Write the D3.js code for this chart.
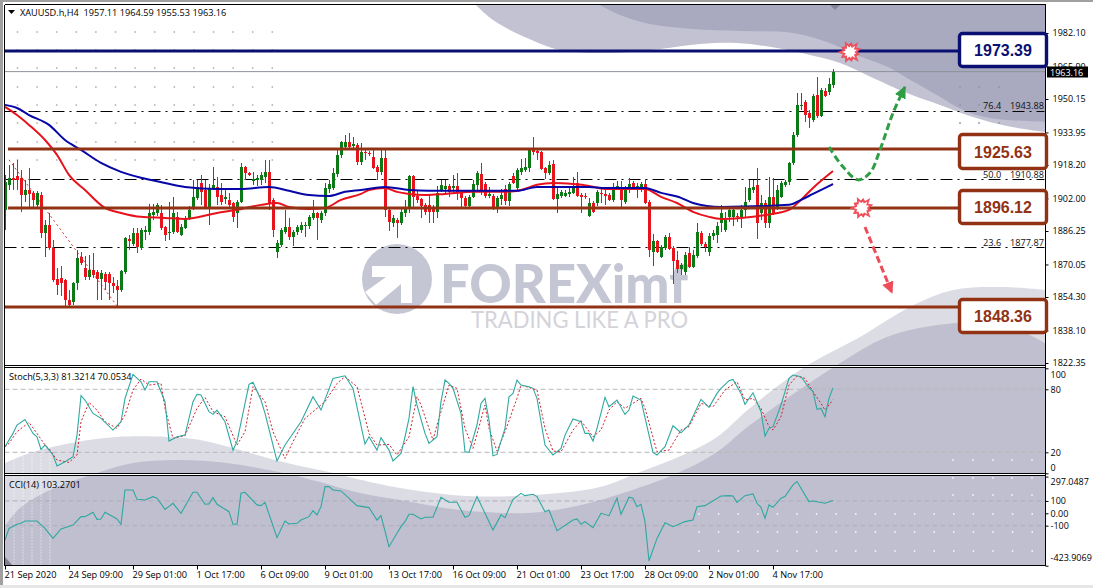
<!DOCTYPE html>
<html><head><meta charset="utf-8">
<style>html,body{margin:0;padding:0;background:#fff;overflow:hidden}svg{display:block}text{font-family:"Open Sans",sans-serif}</style>
<script src="https://cdn.jsdelivr.net/npm/d3@7/dist/d3.min.js"></script></head><body><svg id="c" width="1093" height="588"></svg>
<script>
// ---------- data ----------
const opens=[1896.5,1908.6,1912,1912.9,1912,1903.7,1906.1,1904.7,1898.9,1903.7,
1885.3,1889.2,1878.1,1863.1,1863.5,1862.6,1852.9,1851.9,1861.1,1873.7,
1868.4,1864,1867.4,1866.4,1863.1,1865.5,1865.5,1861.1,1859.7,1857.7,
1866.4,1882.4,1880,1885.3,1878.1,1885.8,1885.8,1894,1895,1895,
1888.2,1885.3,1885.8,1893.1,1884.4,1887.7,1892.6,1897.4,1902.3,1909.5,
1906.1,1897.9,1907.1,1907.6,1903.7,1901.8,1901.3,1899.8,1895,1900.3,
1917.3,1914.4,1910.5,1911,1911,1912.4,1914.9,1901.3,1876.1,1879.5,
1885.8,1888.2,1883.4,1885.8,1886.8,1888.7,1888.7,1892.6,1895,1891.6,
1895,1906.6,1907.1,1913.9,1923.1,1926.9,1929.4,1927.4,1927.9,1919.7,
1924.5,1924,1922.1,1917.3,1914.9,1921.6,1896.5,1890.2,1891.6,1890.2,
1895,1897.9,1912.9,1903.2,1901.8,1898.9,1898.9,1897.9,1895.5,1906.1,
1906.6,1908.1,1907.1,1908.1,1905.2,1902.3,1898.4,1902.8,1908.6,1913.9,
1909,1903.2,1903.2,1897.4,1901.8,1906.6,1900.8,1912.9,1907.1,1914.9,
1915.8,1916.8,1925.5,1925,1924.5,1916.8,1914.4,1918.7,1901.8,1903.2,
1903.2,1904.2,1904.7,1909.5,1903.7,1903.2,1893.6,1899.8,1899.8,1904.7,
1904.2,1903.7,1901.3,1907.6,1907.6,1900.3,1907.1,1909.5,1907.6,1907.1,
1909,1900.3,1876.1,1881.5,1873.7,1878.1,1883.4,1878.1,1872.3,1867.9,
1866.4,1875.6,1868.9,1874.2,1885.3,1880,1876.1,1883.9,1884.4,1890.2,
1886.8,1893.1,1893.1,1893.6,1893.1,1896.5,1901.3,1906.1,1908.6,1895,
1899.8,1890.2,1902.8,1897.9,1902.8,1908.6,1910,1919.2,1932.8,1946.8,
1948.7,1943.4,1940,1952.1,1942,1954.1,1953.6,1957.11];
const highs=[1913.4,1918.2,1919.2,1920.7,1915.8,1911,1916.8,1905.7,1905.7,1905.2,
1891.6,1895,1881.9,1868.4,1869.4,1863.1,1857.7,1861.6,1877.1,1876.1,
1874.2,1874.7,1875.6,1867.4,1867.4,1866.4,1866.4,1864,1862.6,1867.4,
1883.4,1884.4,1887.7,1887.7,1887.7,1888.7,1899.4,1899.4,1899.8,1898.9,
1888.7,1900.3,1902.8,1895.5,1889.7,1893.6,1898.4,1911,1911,1913.4,
1911,1909,1917.3,1912.4,1909.5,1906.1,1904.7,1900.3,1901.3,1919.2,
1917.8,1914.9,1914.9,1913.4,1914.9,1920.7,1920.7,1902.3,1881.9,1887.7,
1896.5,1892.6,1886.8,1889.2,1890.7,1890.7,1894,1901.3,1895.5,1896,
1909.5,1911,1916.8,1925.5,1929.9,1932.8,1933.7,1931.8,1928.9,1928.9,
1925.5,1925,1925.5,1918.2,1925.5,1925.5,1897.4,1894,1892.6,1897.9,
1901.3,1913.4,1913.4,1905.7,1902.3,1899.8,1903.7,1898.9,1908.1,1911,
1911,1909,1913.4,1914.4,1906.1,1903.2,1903.7,1911,1915.3,1919.2,
1910,1907.6,1904.2,1903.2,1906.6,1908.6,1910,1914.4,1916.8,1921.1,
1921.6,1925.5,1931.8,1926.5,1925,1917.3,1920.2,1920.7,1907.1,1906.1,
1906.1,1907.6,1912.4,1914.9,1904.7,1904.7,1902.3,1900.8,1906.1,1907.1,
1907.1,1904.7,1909.5,1910.5,1910.5,1908.1,1912,1910.5,1909.5,1910,
1911.5,1901.3,1884.8,1881.9,1879.5,1884.4,1885.3,1879,1876.6,1870.8,
1876.1,1878.6,1877.1,1890.2,1886.3,1881,1885.3,1886.8,1890.7,1898.9,
1895.5,1897.9,1897.4,1895,1898.9,1907.6,1911,1911,1916.8,1903.7,
1901.3,1912.4,1912,1908.6,1910.5,1911,1919.7,1934.2,1953.1,1953.1,
1949.7,1944.9,1952.6,1960.8,1955.5,1955.5,1960.3,1964.59];
const lows=[1886.8,1906.1,1906.1,1906.1,1895.5,1900.3,1897.9,1897.4,1897.9,1882.9,
1873.7,1877.1,1861.6,1855.3,1854.8,1849.5,1849.5,1850.5,1857.7,1869.8,
1862.6,1862.6,1863.5,1852.9,1852.9,1857.7,1852.9,1856.3,1850,1856.8,
1865.5,1877.1,1879,1875.6,1877.1,1881.9,1884.4,1891.6,1893.6,1886.8,
1881.5,1881.9,1884.8,1885.3,1883.9,1887.3,1891.6,1896.5,1901.3,1898.9,
1897.4,1889.2,1906.1,1898.9,1898.9,1899.4,1897.9,1890.7,1887.7,1899.8,
1911,1912.9,1908.6,1908.1,1908.6,1909.5,1896.5,1883.4,1873.2,1878.6,
1884.8,1881.9,1879,1884.4,1885.3,1883.4,1887.3,1891.6,1881.9,1890.2,
1893.6,1904.7,1906.1,1912.4,1921.6,1925.5,1925.5,1925.5,1918.2,1918.2,
1920.7,1922.6,1916.3,1911,1913.4,1893.1,1886.3,1888.2,1882.9,1889.2,
1893.1,1895,1897.9,1899.8,1892.6,1894,1890.2,1890.2,1892.6,1905.2,
1903.7,1902.8,1904.7,1901.3,1897.9,1897.4,1897.4,1902.3,1906.1,1903.7,
1902.3,1902.3,1896.5,1895,1898.9,1898.9,1898.4,1909,1906.1,1913.4,
1914.9,1914.9,1923.1,1920.7,1915.8,1911.5,1913.4,1901.3,1895,1902.3,
1902.8,1902.8,1904.2,1902.8,1895,1901.8,1893.1,1895,1898.4,1899.8,
1898.9,1900.8,1900.3,1906.1,1897.9,1899.4,1904.7,1906.1,1902.3,1905.2,
1899.4,1873.7,1869.4,1875.6,1873.2,1877.1,1877.1,1860.6,1866,1865,
1865,1868.4,1868.4,1873.2,1879,1876.1,1874.2,1881.9,1880.5,1885.8,
1885.8,1890.7,1888.7,1890.7,1887.7,1892.6,1900.3,1904.7,1882.4,1891.6,
1887.7,1887.7,1894,1896.5,1902.3,1907.6,1908.6,1918.2,1931.8,1944.9,
1939.1,1936.1,1939.1,1941,1941.5,1951.2,1952.1,1955.53];
const closes=[1910,1912,1911,1911,1903.7,1906.1,1904.2,1901.3,1904.7,1885.3,
1889.2,1878.1,1862.6,1860.2,1861.1,1852.9,1850.5,1861.1,1873.2,1870.8,
1864,1867.4,1865,1863.1,1866,1861.6,1861.1,1859.7,1857.7,1866.9,
1882.9,1881.5,1885.3,1878.6,1886.8,1886.8,1895,1895.5,1898.9,1887.7,
1884.4,1885.8,1895,1885.8,1888.2,1892.6,1896.5,1902.8,1907.6,1905.2,
1897.9,1907.1,1908.6,1902.8,1900.3,1902.8,1898.9,1893.1,1900.3,1917.3,
1914.4,1913.4,1911.5,1912,1913.4,1914.9,1899.8,1886.8,1880.5,1886.8,
1888.2,1883.4,1885.8,1888.2,1889.2,1889.2,1893.1,1895,1892.6,1895,
1907.1,1909,1914.4,1923.1,1929.4,1929.4,1926.9,1928.4,1919.7,1924.5,
1924,1923.6,1916.8,1914.9,1921.6,1896.5,1890.7,1892.6,1890.2,1895.5,
1897.9,1912.9,1902.8,1901.3,1898.4,1895.5,1895.5,1895.5,1904.7,1908.6,
1908.1,1905.2,1908.1,1905.2,1902.3,1898.4,1902.8,1909,1914.4,1906.1,
1903.2,1904.2,1897.4,1902.3,1903.7,1900.8,1909,1909.5,1915.8,1916.8,
1917.3,1925.5,1924.5,1924,1916.3,1914.4,1918.2,1901.8,1904.2,1905.2,
1904.7,1905.2,1907.1,1903.2,1902.8,1902.8,1899.8,1895.5,1905.2,1904.2,
1903.2,1901.3,1907.6,1908.1,1901.3,1907.1,1909,1907.1,1908.1,1909,
1899.8,1877.1,1881.5,1876.1,1878.6,1883.4,1877.6,1871.8,1867.9,1869.8,
1874.7,1868.9,1874.7,1885.8,1880,1878.6,1883.9,1885.3,1888.7,1895,
1891.6,1896.5,1896.5,1893.1,1896.5,1900.3,1907.1,1907.6,1890.2,1899.8,
1890.2,1902.8,1895,1906.1,1909.5,1910,1919.2,1932.8,1947.3,1947.3,
1942.4,1941,1951.6,1942,1954.5,1951.6,1957.4,1963.16];

const maFastBars=[0,3,6,10,13,16,20,25,29,34,40,45,53,58,64,68,71,76,80,84,89,91,95,98,101,105,110,117,125,129,133,137,142,146,150,160,164,168,172,176,179,184,190,196,199,202,207];
const maFast=[1946.3,1942.4,1937.6,1930.3,1923.1,1913.4,1906.1,1897.4,1895,1893.1,1892.6,1892.1,1895,1896.5,1898.9,1899.8,1897.9,1896.9,1897.4,1901.3,1904.2,1906.1,1907.1,1905.2,1904.2,1903.7,1904.2,1905.2,1905.2,1906.1,1908.6,1909.5,1909,1908.1,1906.6,1906.6,1902.8,1899.8,1895.5,1893.1,1892.1,1892.6,1894,1896.5,1901.3,1907.1,1915.3];
const maSlowBars=[0,3,6,11,15,19,24,29,34,40,45,53,59,66,71,76,81,85,89,95,101,106,114,128,133,139,146,150,160,164,169,172,179,196,199,202,207];
const maSlow=[1947.3,1945.8,1942.4,1937.6,1930.3,1925.5,1919.2,1914.9,1912,1909.5,1907.6,1906.6,1906.6,1907.6,1905.7,1903.7,1903.2,1905.2,1906.1,1907.6,1906.1,1905.7,1905.7,1905.7,1907.6,1907.6,1907.6,1907.1,1907.1,1904.7,1902.3,1899.8,1897.9,1898.9,1901.3,1904.2,1909];

const stochBars=[0,2,3,5,7,8,9,10,12,13,15,17,18,19,20,22,24,27,29,30,32,34,35,36,38,40,41,43,45,47,48,49,51,52,53,55,57,58,61,62,64,65,67,68,70,74,77,79,82,85,87,90,91,93,94,96,97,99,100,101,102,103,105,106,108,109,110,111,112,114,115,116,118,119,120,121,122,123,125,126,127,128,129,131,132,133,135,137,139,140,142,144,145,146,147,148,150,151,153,155,156,157,159,161,162,163,165,167,169,171,174,176,178,179,181,182,184,185,187,189,190,191,192,194,196,197,199,201,202,203,204,205,206,207];
const stochMain=[25.3,38,46,51.3,38,34.8,22.8,26.9,17.4,6.9,11,15.8,36.4,73.9,69.8,57,52.3,41.2,49.1,71.4,94.2,87.2,79.3,87.2,87.2,68.2,30.7,34.8,36.4,68.2,75.2,74.5,58.7,56.1,60.2,49.1,22.1,30.1,84.7,86.6,69.8,57,26.9,11.7,26.9,49.1,72.9,60.2,90.4,92.9,80.9,27.9,34.8,22.1,33.9,22.1,11.7,19,34.8,52.3,82.5,65,38,28.5,34.8,68.2,88.8,85.6,80.9,57,20.5,19.9,46,66.6,71.4,50.7,16.7,18,42.8,72.9,76.1,88.8,84,82.5,80.9,71.4,26.9,17.4,23.7,36.4,51.7,49.1,38,38,30.7,42.8,72.3,63.4,69.8,56.1,60.2,73.6,69.8,36.4,19.9,17.4,25.3,45.3,38.6,46,70.4,62.8,76.1,80.9,88.2,89.4,76.1,65.6,76.7,58.7,35.5,42.8,44.4,65,90.4,93.6,92,81.5,77.7,60.9,61.8,53.9,71.4,81.32];
const signalBars=[0,1,3,6,8,10,11,13,16,18,19,21,23,25,28,30,32,34,36,39,40,42,45,48,50,52,55,58,60,62,65,67,70,72,75,80,83,85,88,91,93,96,98,101,103,104,107,108,111,113,115,117,120,121,123,125,128,129,133,135,137,139,142,144,147,149,151,153,155,159,160,163,166,169,171,174,177,180,183,185,187,189,191,192,194,196,198,200,202,204,205,207];
const stochSignal=[25.3,28.5,39.6,48.5,38,26.9,23.7,12.6,10.4,17.4,49.1,67.5,60.2,49.1,42.8,55.5,79.3,89.8,84,85.6,61.8,33.2,35.8,61.8,72.3,58.7,53.9,26.9,39.6,82.5,68.2,39.6,14.2,30.1,52.3,68.2,85.6,92,82.5,38,26.9,27.5,17.4,34.8,72.9,65,31.7,46,84,80.9,42.8,23.7,65,42.8,21.2,39.6,71.4,84,79.3,42.8,21.2,20.5,41.2,50.1,34.8,41.2,60.2,68.2,61.8,71.4,61.8,20.5,22.1,41.2,44.4,66.6,63.4,79.3,87.2,69.8,71.4,61.8,44.4,41.2,53.9,84,92.6,90.4,77.7,66.6,60.2,70.05];

const cciBars=[0,1,3,4,5,8,10,12,14,17,19,20,22,23,24,25,28,29,30,32,33,35,37,38,40,42,44,47,48,50,51,52,53,56,57,58,59,60,63,64,65,68,70,71,73,74,76,77,78,79,80,81,82,84,88,91,93,94,96,98,99,100,101,102,104,105,107,109,111,113,115,116,118,122,124,125,127,129,130,132,133,135,136,138,142,143,144,145,147,149,151,153,154,156,157,158,159,160,161,163,165,167,170,172,173,175,179,181,182,183,185,187,188,189,190,191,192,194,195,197,198,201,202,205,207];
const cciValues=[-216,-122,-89,-81,-62,-62,-122,-203,-127,-95,-27,-27,8,-49,-46,8,-46,-89,189,189,113,108,135,122,32,81,0,170,170,73,76,127,73,13,-89,-89,162,170,68,62,89,-197,-62,-86,-81,-54,-27,22,-13,54,216,216,189,181,62,46,-54,-19,-270,-162,-108,-67,-8,-8,-46,-32,-32,130,89,89,-32,-19,135,-135,-13,-35,113,162,143,154,135,13,27,-140,-54,-46,-89,-67,-116,0,-19,122,-8,130,122,54,73,-67,-386,-203,-76,-108,-67,-54,54,62,140,143,140,89,143,157,81,49,-40,68,49,122,135,230,257,95,100,81,103.27];

const priceTicks=[1982.10,1965.90,1950.15,1933.95,1918.20,1902.00,1886.25,1870.05,1854.30,1838.10,1822.35];
const stochTicks=[100,80,20,0];
const cciTicks=[297.0487,100,0,-100,-423.9069];
const cciTickLabels=["297.0487","100","0.00","-100","-423.9069"];
const timeLabels=["21 Sep 2020","24 Sep 09:00","29 Sep 01:00","1 Oct 17:00","6 Oct 09:00","9 Oct 01:00","13 Oct 17:00","16 Oct 09:00","21 Oct 01:00","23 Oct 17:00","28 Oct 09:00","2 Nov 01:00","4 Nov 17:00"];
const barsPerLabel=16;

const fibLevels=[1943.88,1910.88,1877.87];
const fibNames=["76.4","50.0","23.6"];
const fibLabels=["1943.88","1910.88","1877.87"];
const fibBaseBars=[1,28];
const fibBasePrices=[1920.7,1850];

const levelPrices=[1973.39,1925.9,1897.4,1849.5];
const levelLabels=["1973.39","1925.63","1896.12","1848.36"];
const levelColors=["#0a0f72","#923214","#923214","#923214"];
const lastPrice=1963.16;

const upBars=[206,209.5,213.25,216.25,218.75,222,225];
const upPrices=[1926.9,1917.3,1911,1914.4,1925.5,1943.4,1956];
const downBars=[215,221.75];
const downPrices=[1888.2,1856.3];
const burstBars=[211.25,214.25];
const burstPrices=[1972.9,1897.4];

// background sweep outlines (decoration only)
const topMid=[[475,4],[493,20],[527,38],[560,50],[610,53],[660,49],[700,44],[737,43],[777,48],[810,55],[840,63],[873,78],[907,93],[940,105],[973,117],[1007,126],[1045,132]];
const topDark=[[598,4],[620,15],[650,24],[693,29],[743,31],[793,33],[827,42],[857,55],[890,68],[907,78],[937,95],[963,110],[990,118],[1045,122]];
const lowLight=[[5,463],[33,452],[77,442],[117,437],[167,437],[200,440],[240,450],[283,462],[333,473],[353,478],[400,488],[467,496],[533,495],[600,487],[640,472],[683,455],[717,437],[750,408],[803,368],[860,337],[910,307],[953,290],[1003,287],[1045,290]];
const lowDark=[[5,526],[20,508],[50,490],[97,473],[133,463],[177,460],[227,463],[283,473],[320,482],[360,493],[400,500],[460,510],[527,513],[567,508],[617,495],[680,472],[717,452],[750,425],[837,365],[887,337],[937,325],[970,323],[1013,328],[1045,343]];
const logoArrow=[[372,266],[412,266],[412,303],[401,303],[401,284],[376,305],[365,292],[386,277],[372,277]];

// ---------- scales ----------
const svg=d3.select("#c");
const L=4.5,R=1045.5;
const x=d3.scaleLinear().domain([0,barsPerLabel]).range([5,69]);
const y=d3.scaleLinear().domain([1822.35,1982.10]).range([363,33]);
const yS=d3.scaleLinear().domain([0,100]).range([473.3,368.3]);
const yC=d3.scaleLinear().domain([-423.9069,297.0487]).range([565.7,476.6]);

const C={dark:"#bfbfcf",light:"#dcdce5",tMid:"#c2c2d2",tDark:"#a9a9c0"};
const curve=d3.line().curve(d3.curveCatmullRom.alpha(0.5));
function area(pts,closeTo){const d=curve(pts);return d+closeTo+"Z";}

// ---------- sweeps ----------
svg.append("defs").append("clipPath").attr("id","plot").append("rect").attr("x",L).attr("y",4.5).attr("width",R-L).attr("height",561);
const bg=svg.append("g").attr("clip-path","url(#plot)");
bg.append("path").attr("d",area(topMid,"L1045,4")).attr("fill",C.tMid);
bg.append("path").attr("d",area(topDark,"L1045,4")).attr("fill",C.tDark);
bg.append("path").attr("d",area(lowLight,"L1045,566L5,566")).attr("fill",C.light);
bg.append("path").attr("d",area(lowDark,"L1045,566L5,566")).attr("fill",C.dark);
bg.append("path").attr("d","M5,557L13,566L5,566Z").attr("fill","#7f7f8f");
[14,23,32,41,50].forEach(v=>bg.append("line").attr("x1",v).attr("x2",v).attr("y1",447).attr("y2",565).attr("stroke","#fff").attr("stroke-opacity",.45).attr("stroke-dasharray","2 1"));

// dot grids
function dots(xs,ys,col){const g=bg.append("g").attr("fill",col);
  ys.forEach(b=>xs.forEach(a=>g.append("circle").attr("cx",a).attr("cy",b).attr("r",.9)));}
dots(d3.range(14).map(i=>17.5+i*19.6),[32,50,68,87,105,123,142,160],"#b9b9b9");
dots([960,979,999],[87,105,123],"#9494a8");
dots([953,973,993,1012,1032],[460,478,495],"#f2f2f6");
dots(d3.range(18).map(i=>699+i*19.6),[514,532,551],"#f2f2f6");

// ---------- watermark ----------
const wm=bg.append("g");
wm.append("circle").attr("cx",397).attr("cy",279).attr("r",35).attr("fill","#c5c6d4");
wm.append("polygon").attr("points",logoArrow.map(p=>p.join(",")).join(" ")).attr("fill","#fff");
wm.append("text").attr("x",440).attr("y",303).attr("textLength",248).attr("lengthAdjust","spacingAndGlyphs")
  .attr("font-size",54).attr("font-weight",900).attr("fill","#c5c6d4").style("font-family","Lato").text("FOREXimf");
wm.append("text").attr("x",471).attr("y",328).attr("textLength",217).attr("lengthAdjust","spacingAndGlyphs")
  .attr("font-size",23).attr("fill","#d3d3d9").style("font-family","Lato").text("TRADING LIKE A PRO");

// ---------- reference lines ----------
const chart=svg.append("g").attr("clip-path","url(#plot)");
[80,20].forEach(v=>chart.append("line").attr("x1",L).attr("x2",R).attr("y1",yS(v)).attr("y2",yS(v)).attr("stroke","#b8b8b8").attr("stroke-dasharray","5 3"));
[100,-100].forEach(v=>chart.append("line").attr("x1",L).attr("x2",R).attr("y1",yC(v)).attr("y2",yC(v)).attr("stroke","#aeaebc").attr("stroke-dasharray","5 3"));
chart.append("line").attr("x1",L).attr("x2",R).attr("y1",y(lastPrice)-.5).attr("y2",y(lastPrice)-.5).attr("stroke","#8c9298");
fibLevels.forEach((v,i)=>{
  chart.append("line").attr("x1",L).attr("x2",R-1).attr("y1",Math.round(y(v))-.5).attr("y2",Math.round(y(v))-.5).attr("stroke","#000").attr("stroke-dasharray","12 5 2 5");
  chart.append("text").attr("x",983).attr("y",y(v)-2.5).attr("font-size",9.2).attr("fill","#111").text(fibNames[i]);
  chart.append("text").attr("x",1044).attr("y",y(v)-2.5).attr("text-anchor","end").attr("font-size",9.2).attr("fill","#111").text(fibLabels[i]);
});
const pl=d3.line().x(d=>x(d[0])).y(d=>y(d[1]));
chart.append("path").attr("d",pl(d3.zip(fibBaseBars,fibBasePrices))).attr("fill","none").attr("stroke","#d83030").attr("stroke-width",1).attr("stroke-dasharray","2 3");

// ---------- candles ----------
const bars=d3.range(opens.length);
const cg=chart.append("g").attr("shape-rendering","crispEdges");
const col=i=>closes[i]>=opens[i]?"#0c7a14":"#e6141c";
cg.selectAll("line.w").data(bars).join("line").attr("class","w")
  .attr("x1",i=>x(i)+.5).attr("x2",i=>x(i)+.5).attr("y1",i=>y(highs[i])).attr("y2",i=>y(lows[i])).attr("stroke",col);
cg.selectAll("rect").data(bars).join("rect")
  .attr("x",i=>x(i)-1).attr("width",3)
  .attr("y",i=>y(Math.max(opens[i],closes[i])))
  .attr("height",i=>Math.max(1,Math.abs(y(opens[i])-y(closes[i])))).attr("fill",col);

// ---------- moving averages ----------
const sm=d3.line().curve(d3.curveMonotoneX).x(d=>x(d[0])).y(d=>y(d[1]));
chart.append("path").attr("d",sm(d3.zip(maFastBars,maFast))).attr("fill","none").attr("stroke","#e8121c").attr("stroke-width",2);
chart.append("path").attr("d",sm(d3.zip(maSlowBars,maSlow))).attr("fill","none").attr("stroke","#0606a8").attr("stroke-width",2);

// ---------- horizontal levels ----------
levelPrices.forEach((v,i)=>chart.append("line").attr("x1",i==0||i==3?L:8).attr("x2",960).attr("y1",y(v)).attr("y2",y(v)).attr("stroke",levelColors[i]).attr("stroke-width",3));

// ---------- indicators ----------
const ls=d3.line().x(d=>x(d[0])).y(d=>yS(d[1]));
const lc=d3.line().x(d=>x(d[0])).y(d=>yC(d[1]));
chart.append("path").attr("d",ls(d3.zip(signalBars,stochSignal))).attr("fill","none").attr("stroke","#d0202a").attr("stroke-dasharray","2 2");
chart.append("path").attr("d",ls(d3.zip(stochBars,stochMain))).attr("fill","none").attr("stroke","#2fa8a0").attr("stroke-width",1.1);
chart.append("path").attr("d",lc(d3.zip(cciBars,cciValues))).attr("fill","none").attr("stroke","#2fa8a0").attr("stroke-width",1.1);

// ---------- arrows and bursts ----------
const defs=svg.select("defs");
function marker(id,c){defs.append("marker").attr("id",id).attr("markerUnits","userSpaceOnUse").attr("markerWidth",14).attr("markerHeight",14).attr("refX",11).attr("refY",6).attr("orient","auto")
 .append("path").attr("d","M0,0L12,6L0,12Z").attr("fill",c);}
marker("ag","#2f9d44");marker("ar","#ec4d58");
const curveP=d3.line().curve(d3.curveCatmullRom.alpha(.5)).x(d=>x(d[0])).y(d=>y(d[1]));
svg.append("path").attr("d",curveP(d3.zip(upBars,upPrices))).attr("fill","none").attr("stroke","#2f9d44").attr("stroke-width",3).attr("stroke-dasharray","7 3.5").attr("marker-end","url(#ag)");
svg.append("path").attr("d",pl(d3.zip(downBars,downPrices))).attr("fill","none").attr("stroke","#ec4d58").attr("stroke-width",3).attr("stroke-dasharray","7 3.5").attr("marker-end","url(#ar)");
burstBars.forEach((b,k)=>{
  const cx=x(b),cy=y(burstPrices[k]),n=11,rad=[12,10,13,10,12,11,13,10,12,10,13];
  const star=(sc,rin)=>{const pts=[];
    for(let i=0;i<n;i++){const a=i/n*2*Math.PI-.3,a2=(i+.5)/n*2*Math.PI-.3;
      pts.push([cx+sc*rad[i]*Math.cos(a),cy+sc*rad[i]*Math.sin(a)]);pts.push([cx+rin*Math.cos(a2),cy+rin*Math.sin(a2)]);}
    return pts.map(p=>p.join(",")).join(" ");};
  svg.append("polygon").attr("points",star(1,7.5)).attr("fill","#f0505c");
  svg.append("polygon").attr("points",star(k==0?.62:.62,k==0?4.5:5)).attr("fill","#fff");
});

// ---------- frame ----------
const fr=svg.append("g").attr("shape-rendering","crispEdges");
fr.append("rect").attr("x",0).attr("y",0).attr("width",1093).attr("height",1.5).attr("fill","#a0a0a0");
fr.append("rect").attr("x",0).attr("y",0).attr("width",2.5).attr("height",588).attr("fill","#a0a0a0");
fr.append("rect").attr("x",0).attr("y",585).attr("width",1093).attr("height",3).attr("fill","#e6e6e6");
[[L,365.5,R,365.5],[L,367.5,R,367.5],[L,473.5,R,473.5],[L,475.5,R,475.5],[L,4.5,R,4.5],[L,565.5,R,565.5],[L,4.5,L,565.5],[R,4.5,R,565.5]].forEach(a=>
  fr.append("line").attr("x1",a[0]).attr("y1",a[1]).attr("x2",a[2]).attr("y2",a[3]).attr("stroke","#000"));
fr.append("rect").attr("x",L+.5).attr("y",366).attr("width",R-L-1).attr("height",1).attr("fill","#fff");
fr.append("rect").attr("x",L+.5).attr("y",474).attr("width",R-L-1).attr("height",1).attr("fill","#fff");

// ---------- axes ----------
function styleAxis(g,fs){g.select(".domain").remove();g.selectAll("line").attr("stroke","#000");g.selectAll("text").attr("fill","#000").attr("font-size",fs).style("font-family","'Open Sans',sans-serif");}
svg.append("g").attr("transform",`translate(${R},0)`).call(d3.axisRight(y).tickValues(priceTicks).tickFormat(d3.format(".2f")).tickSize(3).tickPadding(4)).call(styleAxis,9);
const sAx=svg.append("g").attr("transform",`translate(${R},0)`).call(d3.axisRight(yS).tickValues(stochTicks).tickFormat(d3.format("d")).tickSize(3).tickPadding(2)).call(styleAxis,9);
sAx.selectAll("text").attr("y",d=>d==100?6:d==0?-6:0);
const cAx=svg.append("g").attr("transform",`translate(${R},0)`).call(d3.axisRight(yC).tickValues(cciTicks).tickFormat((d,i)=>cciTickLabels[i]).tickSize(3).tickPadding(2)).call(styleAxis,9);
cAx.selectAll("text").attr("y",d=>d>200?5:d<-200?-8:0);
const tAx=svg.append("g").attr("transform","translate(0,565.5)").call(d3.axisBottom(x).tickValues(timeLabels.map((_,i)=>i*barsPerLabel)).tickFormat((d,i)=>timeLabels[i]).tickSize(4).tickPadding(2)).call(styleAxis,9.2);
tAx.selectAll("text").attr("text-anchor","start").attr("dx",-1);

// ---------- headings ----------
svg.append("path").attr("d","M8,10L15,10L11.5,14Z").attr("fill","#000");
svg.append("path").attr("d","M830,5L840,5L835,10Z").attr("fill","#85859a");
const hd=(t,a,b)=>svg.append("text").attr("x",a).attr("y",b).attr("font-size",9.2).attr("fill","#000").text(t);
hd("XAUUSD.h,H4  1957.11 1964.59 1955.53 1963.16",20,16).attr("xml:space","preserve");
hd("Stoch(5,3,3) 81.3214 70.0534",9,380);
hd("CCI(14) 103.2701",9,488);

// ---------- price tag and level boxes ----------
svg.append("rect").attr("x",1047).attr("y",66.5).attr("width",41).attr("height",11).attr("fill","#000");
svg.append("text").attr("x",1050).attr("y",75.5).attr("font-size",9).attr("fill","#fff").text("1963.16");
const boxY=[32,133,189,298],boxH=[36,37,36,36];
levelLabels.forEach((t,i)=>{
  svg.append("rect").attr("x",959.5).attr("y",boxY[i]+1.5).attr("width",87).attr("height",boxH[i]-3).attr("rx",3).attr("fill","#fff").attr("stroke",levelColors[i]).attr("stroke-width",3.4);
  svg.append("text").attr("x",1003).attr("y",boxY[i]+boxH[i]/2+6).attr("text-anchor","middle").attr("font-size",16).attr("font-weight",700).attr("fill",levelColors[i]).style("font-family","'Liberation Sans'").text(t);
});
</script></body></html>
